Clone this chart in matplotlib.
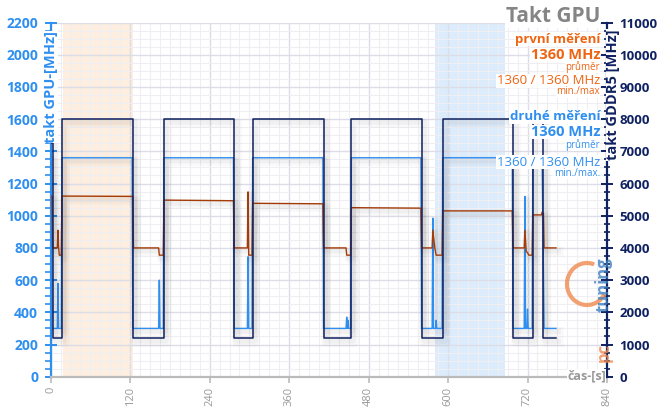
import matplotlib
matplotlib.use("Agg")
import matplotlib.pyplot as plt
import matplotlib.patheffects as pe
from matplotlib.patches import Arc
from matplotlib.ticker import MultipleLocator

# time [s] / GPU clock [MHz] - second run (blue)
blue_pts = [(0, 1360), (1, 1360), (2, 300), (10, 300), (11, 580), (12, 300), (16, 300),
            (17, 1360), (123, 1360), (124, 300), (163, 300), (164, 600), (165, 300),
            (170, 300), (171, 1360), (276, 1360), (277, 300), (297, 300), (298, 745),
            (299, 300), (304, 300), (305, 1360), (411, 1360), (412, 300), (446, 300),
            (447, 370), (448, 300), (449, 350), (450, 300), (453, 300), (454, 1360),
            (559, 1360), (560, 300), (576, 300), (577, 985), (578, 300), (581, 300),
            (582, 350), (583, 300), (591, 300), (592, 1360), (697, 1360), (698, 300),
            (715, 300), (716, 1120), (717, 300), (719, 300), (720, 420), (721, 300),
            (727, 300), (728, 1360), (742, 1360), (745, 300), (763, 300)]

# time [s] / GPU clock [MHz] - first run (brown)
brown_pts = [(0, 1120), (2, 1120), (3, 800), (10, 800), (11, 910), (12, 800), (13, 755),
             (16, 755), (17, 1122), (124, 1120), (125, 800), (163, 800), (164, 755),
             (170, 755), (171, 1097), (276, 1093), (277, 800), (297, 800), (298, 1148),
             (299, 755), (304, 755), (305, 1077), (411, 1074), (412, 800), (446, 800),
             (447, 755), (453, 755), (454, 1050), (559, 1047), (560, 800), (576, 800),
             (577, 910), (580, 800), (582, 755), (591, 755), (592, 1030), (697, 1030),
             (698, 800), (715, 800), (716, 910), (718, 780), (720, 770), (722, 755),
             (727, 755), (728, 1005), (741, 1005), (742, 1022), (744, 1015), (745, 800),
             (763, 800)]

# memory clock GDDR5 [MHz], step changes
mem_t = [0, 3, 17, 124, 171, 277, 305, 412, 454, 560, 592, 698, 728, 743, 763]
mem_v = [7250, 1200, 8000, 1200, 8000, 1200, 8000, 1200, 8000, 1200, 8000, 1200, 8000, 1200, 1200]

# highlighted intervals
span_first = (19, 124)
span_second = (581, 686)

xticks = [0, 120, 240, 360, 480, 600, 720, 840]

BLUE = "#2f8ff0"
NAVY = "#0f2160"
BROWN = "#a53c08"
ORANGE = "#ef6413"
GRAY = "#999999"

plt.rcParams['font.family'] = ['Open Sans', 'DejaVu Sans']

fig = plt.figure(figsize=(6.6, 4.17), dpi=100)
ax = fig.add_axes([0.0768, 0.0966, 0.8429, 0.8494])
ax2 = ax.twinx()

ax.axvspan(*span_first, color="#fdeedf", zorder=0, lw=0)
ax.axvspan(*span_second, color="#ddecfc", zorder=0, lw=0)

shadow = [pe.SimpleLineShadow(offset=(2, -2.5), alpha=0.025, linewidth=7),
          pe.SimpleLineShadow(offset=(1.5, -2), alpha=0.035, linewidth=4),
          pe.Normal()]

bt, bv = zip(*blue_pts)
ax.plot(bt, bv, color=BLUE, lw=1.0, zorder=3, path_effects=shadow)
rt, rv = zip(*brown_pts)
ax.plot(rt, rv, color=BROWN, lw=1.0, zorder=4, path_effects=shadow)
ax2.plot(mem_t, mem_v, color=NAVY, lw=1.1, drawstyle="steps-post", path_effects=shadow)

ax.set_xlim(0, 840)
ax.set_ylim(0, 2200)
ax2.set_ylim(0, 11000)

ax.xaxis.set_major_locator(MultipleLocator(120))
ax.xaxis.set_minor_locator(MultipleLocator(15))
ax.yaxis.set_major_locator(MultipleLocator(200))
ax.yaxis.set_minor_locator(MultipleLocator(50))
ax2.yaxis.set_major_locator(MultipleLocator(1000))
ax2.yaxis.set_minor_locator(MultipleLocator(250))

ax.grid(which="major", color="#dcdde6", lw=1.0)
ax.grid(which="minor", color="#eeeef3", lw=0.8)
ax.set_axisbelow(True)

for a in (ax, ax2):
    a.spines["top"].set_visible(False)
ax.spines["right"].set_visible(False)
ax.spines["left"].set_color(BLUE)
ax.spines["left"].set_linewidth(1.6)
ax.spines["bottom"].set_color("#bbbbbb")
ax.spines["bottom"].set_linewidth(1.6)
ax2.spines["left"].set_visible(False)
ax2.spines["bottom"].set_visible(False)
ax2.spines["right"].set_color(NAVY)
ax2.spines["right"].set_linewidth(1.6)

ax.set_xticks(xticks)
ax.set_xticklabels([str(x) for x in xticks], rotation=90, color=GRAY, fontsize=8)
ax.tick_params(axis="x", which="major", colors="#bbbbbb", length=4, width=1.2,
               labelcolor=GRAY, pad=3)
ax.tick_params(axis="x", which="minor", length=0)
ax.tick_params(axis="y", which="major", colors=BLUE, direction="inout", length=8, width=1.4,
               labelsize=10, pad=5)
ax.tick_params(axis="y", which="minor", colors=BLUE, direction="out", length=4, width=1.2)
for lab in ax.get_yticklabels():
    lab.set_fontweight("bold")
ax2.tick_params(axis="y", which="major", colors=NAVY, direction="inout", length=8, width=1.4,
                labelsize=9.5, pad=5)
ax2.tick_params(axis="y", which="minor", colors=NAVY, direction="inout", length=5, width=1.2)
for lab in ax2.get_yticklabels():
    lab.set_fontweight("bold")

box = dict(facecolor="white", edgecolor="none", pad=0.3)

# axis titles
fig.text(51 / 660, 1 - 87 / 417, "takt GPU-[MHz]", rotation=90, color=BLUE, fontsize=10.5,
         fontweight="bold", ha="center", va="center", bbox=box)
fig.text(613 / 660, 1 - 95 / 417, "takt GDDR5 [MHz]", rotation=90, color=NAVY, fontsize=10.5,
         fontweight="bold", ha="center", va="center", bbox=box)
fig.text(606 / 660, 1 - 376 / 417, "čas-[s]", color=GRAY, fontsize=9, fontweight="bold",
         ha="right", va="center", bbox=box)

# watermark logo (drawn before the legend so the legend stays on top)
fig.text(604 / 660, 1 - 353 / 417, "pc", rotation=90, color="#f08a50", fontsize=12,
         fontweight="bold", ha="center", va="center", alpha=0.8)
fig.text(604 / 660, 1 - 285 / 417, "tuning", rotation=90, color="#3f7fbf", fontsize=12,
         fontweight="bold", ha="center", va="center", alpha=0.8)
fig.add_artist(Arc((587 / 100, (417 - 284) / 100), 0.40, 0.42, theta1=70, theta2=330,
                   transform=fig.dpi_scale_trans, color="#f08a50", lw=3, alpha=0.8))

# legend block
R = 600 / 660
def legend_text(y, s, color, size, weight="normal"):
    fig.text(R, 1 - y / 417, s, color=color, fontsize=size, fontweight=weight,
             ha="right", va="center", bbox=box)

legend_text(17, "Takt GPU", "#858585", 15, "bold")
legend_text(39, "první měření", ORANGE, 9.5, "bold")
legend_text(55, "1360 MHz", ORANGE, 10.5, "bold")
legend_text(67, "průměr", ORANGE, 7)
legend_text(81, "1360 / 1360 MHz", ORANGE, 9.5)
legend_text(92, "min./max", ORANGE, 7)
legend_text(117, "druhé měření", BLUE, 9.5, "bold")
legend_text(132, "1360 MHz", BLUE, 10.5, "bold")
legend_text(145, "průměr", BLUE, 7)
legend_text(162, "1360 / 1360 MHz", BLUE, 9.5)
legend_text(173, "min./max.", BLUE, 7)

fig.savefig("out.png", dpi=100, facecolor="white")
